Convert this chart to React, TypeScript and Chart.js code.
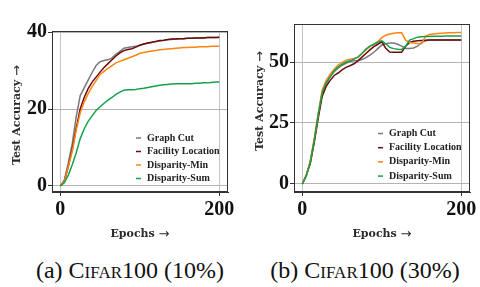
import React, { useEffect, useRef } from "react";
import { Chart, registerables } from "chart.js";

Chart.register(...registerables);

const epochs = [0,5,10,15,20,25,30,35,40,45,50,55,60,65,70,75,80,85,90,95,100,105,110,115,120,125,130,135,140,145,150,155,160,165,170,175,180,185,190,195,200];

const seriesNames = ["Graph Cut", "Facility Location", "Disparity-Min", "Disparity-Sum"];
const seriesColors = ["#7a7a7a", "#6e0a0a", "#ff8412", "#17a04c"];

// (a) CIFAR100 (10%)
const aGraphCut = [0,1.5,6,11,18,23.5,25.5,27.5,29.5,31.3,32.3,32.6,32.8,33.3,34.2,35,35.8,36,36.2,36.3,36.6,36.9,37.1,37.3,37.5,37.7,37.8,38,38.1,38.2,38.3,38.3,38.4,38.4,38.5,38.5,38.5,38.6,38.6,38.6,38.6];
const aFacilityLocation = [0,1.2,5,9.5,15,20,23,25.3,27,28.3,29.6,30.8,31.8,32.8,33.8,34.6,35.2,35.5,35.7,36.1,36.6,36.9,37.2,37.4,37.6,37.8,37.9,38.1,38.2,38.2,38.3,38.3,38.4,38.4,38.5,38.5,38.5,38.6,38.6,38.6,38.7];
const aDisparityMin = [0,1.2,5,9,14.5,19,21.8,24,25.8,27.4,29,29.8,30.6,31.3,32,32.4,32.8,33.2,33.6,34,34.5,34.7,34.9,35.1,35.2,35.4,35.5,35.6,35.7,35.8,35.9,36,36,36.1,36.1,36.2,36.2,36.2,36.3,36.3,36.3];
const aDisparitySum = [0,0.8,2.8,5.5,8.6,12.3,14.8,16.8,18.2,19.6,20.6,21.5,22.3,23,23.8,24.4,24.9,25,25,25.1,25.3,25.4,25.6,25.8,26,26.2,26.3,26.4,26.5,26.6,26.6,26.6,26.6,26.6,26.7,26.7,26.8,26.8,26.9,27,27];

// (b) CIFAR100 (30%)
const bGraphCut = [0,3.5,9,18,28,37,41,44,46,47.5,48.7,49.5,50.2,50.5,50.6,51,51.8,52.8,54,55.5,57,57.5,57.8,57.8,57.3,56.5,55.6,55.6,55.8,56.5,58,58.7,59,59,59,59,59,59,59,59,59];
const bFacilityLocation = [0,3.5,8.5,17,27,36,40,42.5,44.5,45.5,46.8,47.8,48.5,49.3,50.5,52,53.5,55,56.3,57.3,58.3,55.6,54.1,54,54,54,56.5,58,58.5,58.7,58.8,58.9,59,59,59,59,59,59,59,59,59];
const bDisparityMin = [0,3.5,9.5,18.5,29,38.5,42.5,45,47,48.8,49.8,50.8,51.2,51.5,52,53.5,55,56.3,57.2,58.3,60,61,61.5,61.8,62,62,59,58,57.8,57.6,57.5,60.5,61.3,61.5,61.7,61.8,61.9,62,62,62.1,62.1];
const bDisparitySum = [0,3.5,9,18,28.5,37.5,41.5,44,46.3,48,49,50,50.5,51.2,52,53.5,55.3,56.5,57.3,58.2,58.7,57.5,56,55.5,55.2,55.1,56.5,59,59.6,60.2,60.4,60.5,60.5,60.6,60.6,60.6,60.7,60.7,60.7,60.7,60.7];

const xTicks = [0, 200];
const aYTicks = [0, 20, 40];
const bYTicks = [0, 25, 50];

const xTitle = "Epochs";
const yTitle = "Test Accuracy";
const titleArrow = "→";

const SERIF = '"Liberation Serif", "Times New Roman", serif';
const TITLE_FONT = 'bold 11px "DejaVu Serif", serif';
const ARROW_FONT = '13px "DejaVu Sans", sans-serif';

const framePlugin = {
  id: "frameBox",
  afterDatasetsDraw(chart: any) {
    const { ctx, chartArea } = chart;
    ctx.save();
    ctx.strokeStyle = "#333333";
    ctx.lineWidth = 1;
    ctx.strokeRect(
      Math.round(chartArea.left) + 0.5,
      Math.round(chartArea.top) + 0.5,
      Math.round(chartArea.right - chartArea.left) - 1,
      Math.round(chartArea.bottom - chartArea.top) - 1
    );
    ctx.restore();
  },
};

function drawArrowTitle(ctx: CanvasRenderingContext2D, text: string, cx: number, cy: number) {
  ctx.font = TITLE_FONT;
  const w1 = ctx.measureText(text + " ").width;
  ctx.font = ARROW_FONT;
  const w2 = ctx.measureText(titleArrow).width;
  const x0 = cx - (w1 + w2) / 2;
  ctx.textAlign = "left";
  ctx.textBaseline = "middle";
  ctx.font = TITLE_FONT;
  ctx.fillText(text + " ", x0, cy);
  ctx.font = ARROW_FONT;
  ctx.fillText(titleArrow, x0 + w1, cy + 0.5);
}

const titlesPlugin = {
  id: "axisTitles",
  afterDraw(chart: any, _args: any, opts: any) {
    const { ctx, chartArea } = chart;
    ctx.save();
    ctx.fillStyle = "#2a2a2a";
    drawArrowTitle(ctx, xTitle, (chartArea.left + chartArea.right) / 2, opts.xTitleY);
    ctx.translate(opts.yTitleX, opts.yTitleY);
    ctx.rotate(-Math.PI / 2);
    drawArrowTitle(ctx, yTitle, 0, 0);
    ctx.restore();
  },
};

const legendPlugin = {
  id: "inlineLegend",
  afterDraw(chart: any, _args: any, opts: any) {
    const { ctx, chartArea } = chart;
    ctx.save();
    ctx.font = `bold 10px ${SERIF}`;
    ctx.textBaseline = "middle";
    ctx.textAlign = "left";
    chart.data.datasets.forEach((ds: any, i: number) => {
      const y = chartArea.bottom - opts.bottomOffset + i * opts.rowGap;
      const x = chartArea.right - opts.rightOffset;
      ctx.strokeStyle = ds.borderColor;
      ctx.lineWidth = 1.5;
      ctx.beginPath();
      ctx.moveTo(x - 11, y);
      ctx.lineTo(x - 6, y);
      ctx.stroke();
      ctx.fillStyle = "#222222";
      ctx.fillText(ds.label, x, y);
    });
    ctx.restore();
  },
};

type PlotProps = {
  series: number[][];
  yTicks: number[];
  yMin: number;
  yMax: number;
  padTop: number;
  padRight: number;
  yAxisWidth: number;
  yTitleX: number;
  yTitleY: number;
  legendBottom: number;
  legendGap: number;
};

function Plot(p: PlotProps) {
  const ref = useRef<HTMLCanvasElement | null>(null);
  useEffect(() => {
    if (!ref.current) return;
    const order = [3, 2, 1, 0];
    const chart = new Chart(ref.current, {
      type: "line",
      data: {
        datasets: p.series.map((vals, i) => ({
          label: seriesNames[i],
          data: epochs.map((e, j) => ({ x: e, y: vals[j] })),
          borderColor: seriesColors[i],
          backgroundColor: seriesColors[i],
          borderWidth: 1.5,
          pointRadius: 0,
          tension: 0,
          fill: false,
          order: order[i],
        })),
      },
      options: {
        animation: false,
        responsive: false,
        devicePixelRatio: 1,
        layout: { padding: { top: p.padTop, right: p.padRight, left: 0, bottom: 0 } },
        plugins: {
          legend: { display: false },
          tooltip: { enabled: false },
          title: { display: false },
          inlineLegend: { bottomOffset: p.legendBottom, rowGap: p.legendGap, rightOffset: 81 },
          axisTitles: { xTitleY: 234, yTitleX: p.yTitleX, yTitleY: p.yTitleY },
        } as any,
        scales: {
          x: {
            type: "linear",
            min: -10.5,
            max: 211,
            afterBuildTicks: (scale: any) => {
              scale.ticks = xTicks.map((v) => ({ value: v }));
            },
            afterFit: (scale: any) => {
              scale.height = 58;
            },
            ticks: {
              font: { family: SERIF, size: 20, weight: "bold" },
              color: "#111111",
              padding: 2,
              maxRotation: 0,
            },
            grid: {
              color: "#c4c4c4",
              lineWidth: 1,
              tickLength: 4,
              tickColor: "#333333",
            },
            border: { display: true, color: "#333333" },
            title: { display: false },
          },
          y: {
            type: "linear",
            min: p.yMin,
            max: p.yMax,
            afterBuildTicks: (scale: any) => {
              scale.ticks = p.yTicks.map((v) => ({ value: v }));
            },
            afterFit: (scale: any) => {
              scale.width = p.yAxisWidth;
            },
            ticks: {
              font: { family: SERIF, size: 20, weight: "bold" },
              color: "#111111",
              padding: 1,
            },
            grid: {
              color: "#b4b4b4",
              lineWidth: 1,
              tickLength: 4,
              tickColor: "#333333",
            },
            border: { display: true, color: "#333333" },
            title: { display: false },
          },
        },
      },
      plugins: [framePlugin, legendPlugin, titlesPlugin],
    } as any);
    return () => chart.destroy();
  }, []);
  return <canvas ref={ref} width={240} height={250} style={{ width: 240, height: 250, display: "block" }} />;
}

const captionStyle: React.CSSProperties = {
  position: "absolute",
  top: 255,
  width: 240,
  textAlign: "center",
  fontFamily: SERIF,
  fontSize: 24,
  lineHeight: "30px",
  color: "#111",
  whiteSpace: "nowrap",
};

export default function App() {
  return (
    <div style={{ position: "fixed", left: 0, top: 0, width: 480, height: 287, background: "#fff", overflow: "hidden" }}>
      <div style={{ position: "absolute", left: 0, top: 0 }}>
        <Plot
          series={[aGraphCut, aFacilityLocation, aDisparityMin, aDisparitySum]}
          yTicks={aYTicks}
          yMin={-1.6}
          yMax={40.3}
          padTop={31}
          padRight={12}
          yAxisWidth={52}
          yTitleX={17}
          yTitleY={115}
          legendBottom={54}
          legendGap={13.5}
        />
      </div>
      <div style={{ position: "absolute", left: 240, top: 0 }}>
        <Plot
          series={[bGraphCut, bFacilityLocation, bDisparityMin, bDisparitySum]}
          yTicks={bYTicks}
          yMin={-3.3}
          yMax={65.6}
          padTop={24}
          padRight={10}
          yAxisWidth={54}
          yTitleX={20}
          yTitleY={101}
          legendBottom={58.5}
          legendGap={14.2}
        />
      </div>
      <div style={{ ...captionStyle, left: 10 }}>
        (a) <span style={{ fontVariant: "small-caps" }}>Cifar</span>100 (10%)
      </div>
      <div style={{ ...captionStyle, left: 245 }}>
        (b) <span style={{ fontVariant: "small-caps" }}>Cifar</span>100 (30%)
      </div>
    </div>
  );
}
